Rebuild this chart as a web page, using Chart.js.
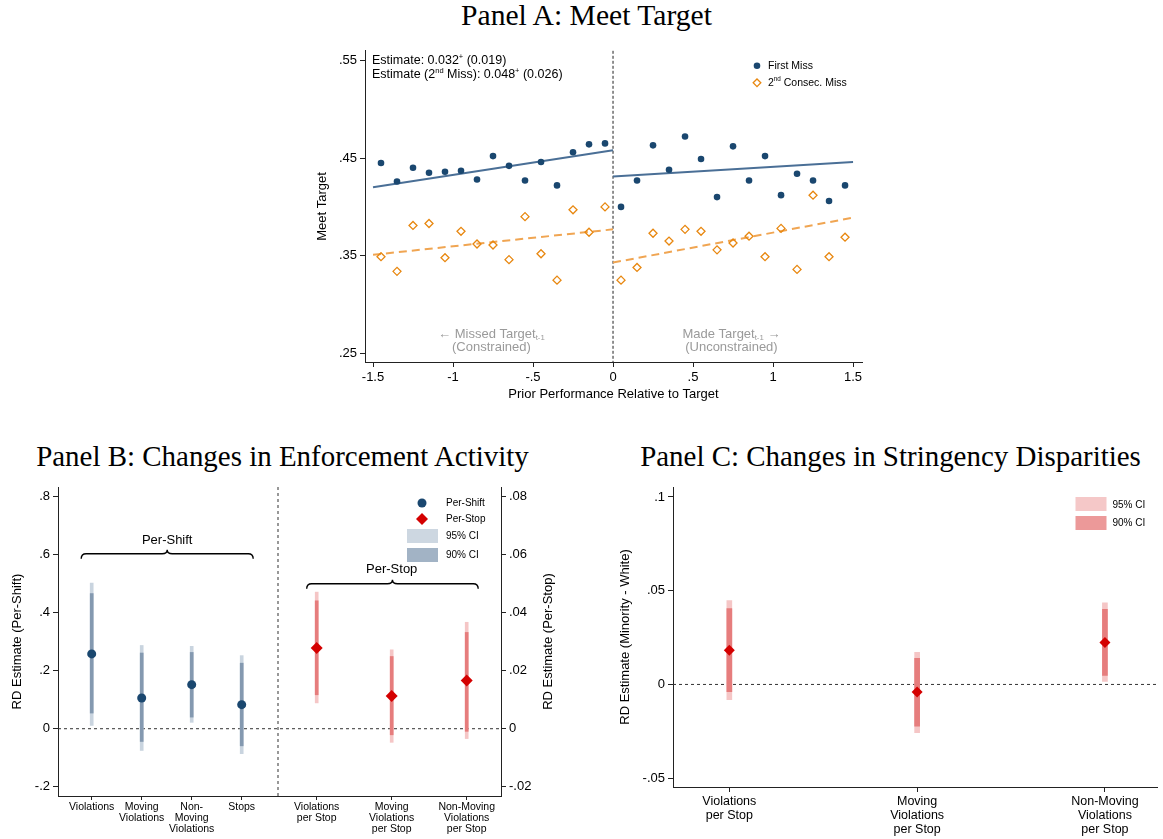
<!DOCTYPE html>
<html>
<head>
<meta charset="utf-8">
<script src="https://cdn.jsdelivr.net/npm/chart.js@4.4.1/dist/chart.umd.min.js"></script>
<style>
  html, body { margin: 0; padding: 0; background: #fff; }
  body { width: 1163px; height: 839px; position: relative; overflow: hidden; }
  .title { position: absolute; font-family: "Liberation Serif", "Times New Roman", serif; color: #000;
           white-space: nowrap; line-height: 1; font-size: 24px; }
  canvas { position: absolute; }
</style>
</head>
<body>
<div class="title" id="titleA">Panel A: Meet Target</div>
<div class="title" id="titleB">Panel B: Changes in Enforcement Activity</div>
<div class="title" id="titleC">Panel C: Changes in Stringency Disparities</div>
<canvas id="chartA" width="580" height="370" style="left:300px;top:40px"></canvas>
<canvas id="chartB" width="580" height="364" style="left:0px;top:475px"></canvas>
<canvas id="chartC" width="573" height="364" style="left:590px;top:475px"></canvas>
<script>
// ---------- Panel A: binned means of meeting the target ----------
const binCenters = [-1.45, -1.35, -1.25, -1.15, -1.05, -0.95, -0.85, -0.75, -0.65, -0.55, -0.45, -0.35, -0.25, -0.15, -0.05,
                     0.05,  0.15,  0.25,  0.35,  0.45,  0.55,  0.65,  0.75,  0.85,  0.95,  1.05,  1.15,  1.25,  1.35,  1.45];
const firstMiss = [0.445, 0.426, 0.440, 0.435, 0.436, 0.437, 0.428, 0.452, 0.442, 0.427, 0.446, 0.422, 0.456, 0.464, 0.465,
                   0.400, 0.427, 0.463, 0.438, 0.472, 0.449, 0.410, 0.462, 0.427, 0.452, 0.412, 0.434, 0.427, 0.406, 0.422];
const secondMiss = [0.349, 0.334, 0.381, 0.383, 0.348, 0.375, 0.362, 0.361, 0.346, 0.390, 0.352, 0.325, 0.397, 0.374, 0.400,
                    0.325, 0.338, 0.373, 0.365, 0.377, 0.375, 0.356, 0.363, 0.370, 0.349, 0.378, 0.336, 0.412, 0.349, 0.369];
// linear fits on each side of the threshold (endpoints)
const fitLeftX = [-1.5, 0];
const fitRightX = [0, 1.5];
const fitFirstLeft = [0.420, 0.458];
const fitFirstRight = [0.431, 0.446];
const fitSecondLeft = [0.351, 0.377];
const fitSecondRight = [0.343, 0.389];
const aXTicks = [-1.5, -1, -0.5, 0, 0.5, 1, 1.5];
const aYTicks = [0.25, 0.35, 0.45, 0.55];

// ---------- Panel B: enforcement activity ----------
const shiftPos = [1, 2, 3, 4];
const shiftLabels = [["Violations"], ["Moving", "Violations"], ["Non-", "Moving", "Violations"], ["Stops"]];
const shiftEst = [0.258, 0.106, 0.152, 0.083];
const shiftLo95 = [0.011, -0.075, 0.022, -0.086];
const shiftHi95 = [0.502, 0.287, 0.284, 0.252];
const shiftLo90 = [0.054, -0.044, 0.040, -0.059];
const shiftHi90 = [0.466, 0.261, 0.263, 0.226];

const stopPos = [5.5, 7, 8.5];
const stopLabels = [["Violations", "per Stop"], ["Moving", "Violations", "per Stop"], ["Non-Moving", "Violations", "per Stop"]];
const stopEst = [0.0278, 0.0113, 0.0166];
const stopLo95 = [0.0089, -0.0047, -0.0034];
const stopHi95 = [0.0471, 0.0272, 0.0367];
const stopLo90 = [0.0117, -0.0021, -0.0009];
const stopHi90 = [0.0441, 0.0249, 0.0332];

const bLeftTicks = [-0.2, 0, 0.2, 0.4, 0.6, 0.8];
const bRightTicks = [-0.02, 0, 0.02, 0.04, 0.06, 0.08];

// ---------- Panel C: stringency disparities ----------
const dispPos = [1, 2, 3];
const dispLabels = [["Violations", "per Stop"], ["Moving", "Violations", "per Stop"], ["Non-Moving", "Violations", "per Stop"]];
const dispEst = [0.0183, -0.0040, 0.0224];
const dispLo95 = [-0.0081, -0.0257, 0.0016];
const dispHi95 = [0.0447, 0.0171, 0.0435];
const dispLo90 = [-0.0039, -0.0222, 0.0048];
const dispHi90 = [0.0404, 0.0139, 0.0400];
const cYTicks = [-0.05, 0, 0.05, 0.1];

// ---------- styling ----------
const FONT = '"Liberation Sans", Arial, Helvetica, "DejaVu Sans", sans-serif';
const NAVY = '#1a476f';
const NAVY_FIT = '#4a6f96';
const ORANGE = '#e8870f';
const ORANGE_FIT = '#f0a552';
const RED = '#d40000';
const BLUE95 = '#c9d4df', BLUE90 = '#8499b0';
const RED95 = '#f5c6c6', RED90 = '#e67d7d';
const LEG_BLUE95 = '#cdd7e1', LEG_BLUE90 = '#a2b3c5';
const LEG_RED95 = '#f5c8c8', LEG_RED90 = '#ec9999';

Chart.defaults.font.family = FONT;
Chart.defaults.color = '#000';
Chart.defaults.animation = false;
Chart.defaults.plugins.legend.display = false;
Chart.defaults.plugins.tooltip.enabled = false;

function fmt(v) {
  if (Math.abs(v) < 1e-12) return '0';
  return String(v).replace(/^(-?)0\./, '$1.');
}

function axis(o) {
  return {
    type: 'linear', min: o.min, max: o.max, position: o.position, offset: false,
    afterBuildTicks: s => { s.ticks = o.ticks.map(v => ({ value: v })); },
    afterFit: s => {
      if (o.width != null) s.width = o.width;
      if (o.height != null) s.height = o.height;
    },
    ticks: {
      autoSkip: false, maxRotation: 0, minRotation: 0, padding: o.pad ?? 3,
      font: { size: o.size ?? 13, lineHeight: o.lh ?? 1.2 }, color: '#000',
      callback: o.labels ? (v, i) => o.labels[i] : (v) => fmt(v)
    },
    grid: { display: true, drawOnChartArea: false, drawTicks: true, tickLength: o.tl ?? 5,
            color: '#222', lineWidth: 1, offset: false },
    border: { display: true, color: '#222', width: 1 }
  };
}

function setFont(ctx, size) { ctx.font = `${size}px ${FONT}`; }

// text with superscript / subscript pieces: parts = [[text, ''|'sup'|'sub'], ...]
function richText(ctx, x, y, parts, size, align, color) {
  const pieces = parts.map(([t, k]) => {
    const s = k ? size * 0.6 : size;
    setFont(ctx, s);
    return { t, k, s, w: ctx.measureText(t).width };
  });
  const total = pieces.reduce((a, p) => a + p.w, 0);
  let cx = align === 'center' ? x - total / 2 : align === 'right' ? x - total : x;
  ctx.save();
  ctx.fillStyle = color || '#000';
  ctx.textBaseline = 'middle';
  ctx.textAlign = 'left';
  pieces.forEach(p => {
    setFont(ctx, p.s);
    const dy = p.k === 'sup' ? -size * 0.3 : p.k === 'sub' ? size * 0.32 : 0;
    ctx.fillText(p.t, cx, y + dy);
    cx += p.w;
  });
  ctx.restore();
}

function vText(ctx, txt, x, y, size) {
  ctx.save();
  ctx.translate(x, y);
  ctx.rotate(-Math.PI / 2);
  setFont(ctx, size);
  ctx.fillStyle = '#000';
  ctx.textAlign = 'center';
  ctx.textBaseline = 'middle';
  ctx.fillText(txt, 0, 0);
  ctx.restore();
}

function dashLine(ctx, x1, y1, x2, y2, dash, color) {
  ctx.save();
  ctx.strokeStyle = color || '#333';
  ctx.lineWidth = 1;
  ctx.setLineDash(dash);
  ctx.beginPath();
  ctx.moveTo(x1, y1);
  ctx.lineTo(x2, y2);
  ctx.stroke();
  ctx.restore();
}

function diamond(ctx, x, y, r, fill, stroke, lw) {
  ctx.beginPath();
  ctx.moveTo(x - r, y); ctx.lineTo(x, y - r); ctx.lineTo(x + r, y); ctx.lineTo(x, y + r); ctx.closePath();
  if (fill) { ctx.fillStyle = fill; ctx.fill(); }
  if (stroke) { ctx.strokeStyle = stroke; ctx.lineWidth = lw || 1; ctx.stroke(); }
}

function dot(ctx, x, y, r, fill) {
  ctx.beginPath();
  ctx.arc(x, y, r, 0, Math.PI * 2);
  ctx.fillStyle = fill;
  ctx.fill();
}

// curly overbrace between x1 and x2 at height y
function overBrace(ctx, x1, x2, y) {
  const xm = (x1 + x2) / 2, r = 5;
  ctx.save();
  ctx.strokeStyle = '#000';
  ctx.lineWidth = 1.4;
  ctx.beginPath();
  ctx.moveTo(x1, y + 5);
  ctx.quadraticCurveTo(x1, y, x1 + r, y);
  ctx.lineTo(xm - r, y);
  ctx.quadraticCurveTo(xm, y, xm, y - 4);
  ctx.quadraticCurveTo(xm, y, xm + r, y);
  ctx.lineTo(x2 - r, y);
  ctx.quadraticCurveTo(x2, y, x2, y + 5);
  ctx.stroke();
  ctx.restore();
}

function ciBars(lo, hi, pos, color, order, thick, yAxisID) {
  return {
    type: 'bar', order, yAxisID,
    data: pos.map((x, i) => ({ x, y: [lo[i], hi[i]] })),
    backgroundColor: color, borderWidth: 0, barThickness: thick, grouped: false
  };
}

// ================= Panel A =================
const decorA = {
  id: 'decorA',
  beforeDatasetsDraw(chart) {
    const { ctx, chartArea: ca, scales: { x } } = chart;
    const x0 = x.getPixelForValue(0);
    dashLine(ctx, x0, ca.top, x0, ca.bottom, [3, 2], '#222');
  },
  afterDraw(chart) {
    const { ctx, chartArea: ca, scales: { x } } = chart;
    // estimate annotation
    richText(ctx, ca.left + 7, ca.top + 10,
      [['Estimate: 0.032', ''], ['+', 'sup'], [' (0.019)', '']], 12.5, 'left');
    richText(ctx, ca.left + 7, ca.top + 24,
      [['Estimate (2', ''], ['nd', 'sup'], [' Miss): 0.048', ''], ['+', 'sup'], [' (0.026)', '']], 12.5, 'left');
    // legend
    const lx = ca.right - 105;
    dot(ctx, lx, ca.top + 15, 3.3, NAVY);
    diamond(ctx, lx, ca.top + 32, 3.8, null, ORANGE, 1.3);
    richText(ctx, lx + 11, ca.top + 15, [['First Miss', '']], 10.5, 'left');
    richText(ctx, lx + 11, ca.top + 32, [['2', ''], ['nd', 'sup'], [' Consec. Miss', '']], 10.5, 'left');
    // side labels
    const gray = '#9a9a9a';
    richText(ctx, x.getPixelForValue(-0.76), ca.bottom - 28,
      [['\u2190 Missed Target', ''], ['t-1', 'sub']], 13, 'center', gray);
    richText(ctx, x.getPixelForValue(-0.76), ca.bottom - 15, [['(Constrained)', '']], 13, 'center', gray);
    richText(ctx, x.getPixelForValue(0.74), ca.bottom - 28,
      [['Made Target', ''], ['t-1', 'sub'], [' \u2192', '']], 13, 'center', gray);
    richText(ctx, x.getPixelForValue(0.74), ca.bottom - 15, [['(Unconstrained)', '']], 13, 'center', gray);
    // axis titles
    vText(ctx, 'Meet Target', 22, (ca.top + ca.bottom) / 2, 13);
    richText(ctx, (ca.left + ca.right) / 2, 354, [['Prior Performance Relative to Target', '']], 13, 'center');
  }
};

new Chart(document.getElementById('chartA'), {
  type: 'scatter',
  data: {
    datasets: [
      { label: 'First Miss', order: 0, data: binCenters.map((x, i) => ({ x, y: firstMiss[i] })),
        pointStyle: 'circle', pointRadius: 3.3, backgroundColor: NAVY, borderWidth: 0 },
      { label: '2nd Consec. Miss', order: 1, data: binCenters.map((x, i) => ({ x, y: secondMiss[i] })),
        pointStyle: 'rectRot', pointRadius: 4, backgroundColor: 'rgba(0,0,0,0)', borderColor: ORANGE, borderWidth: 1.3 },
      { order: 2, showLine: true, pointRadius: 0, borderColor: NAVY_FIT, borderWidth: 2,
        data: fitLeftX.map((x, i) => ({ x, y: fitFirstLeft[i] })) },
      { order: 2, showLine: true, pointRadius: 0, borderColor: NAVY_FIT, borderWidth: 2,
        data: fitRightX.map((x, i) => ({ x, y: fitFirstRight[i] })) },
      { order: 3, showLine: true, pointRadius: 0, borderColor: ORANGE_FIT, borderWidth: 2, borderDash: [8, 5],
        data: fitLeftX.map((x, i) => ({ x, y: fitSecondLeft[i] })) },
      { order: 3, showLine: true, pointRadius: 0, borderColor: ORANGE_FIT, borderWidth: 2, borderDash: [8, 5],
        data: fitRightX.map((x, i) => ({ x, y: fitSecondRight[i] })) }
    ]
  },
  options: {
    responsive: false,
    layout: { padding: { top: 7, right: 18, bottom: 0, left: 0 } },
    scales: {
      x: axis({ min: -1.55, max: 1.556, ticks: aXTicks, height: 48, size: 13, pad: 3 }),
      y: axis({ min: 0.2412, max: 0.5598, ticks: aYTicks, width: 65, size: 13, pad: 3, position: 'left' })
    }
  },
  plugins: [decorA]
});

// ================= Panel B =================
const decorB = {
  id: 'decorB',
  beforeDatasetsDraw(chart) {
    const { ctx, chartArea: ca, scales: { x, y } } = chart;
    const y0 = y.getPixelForValue(0);
    dashLine(ctx, ca.left, y0, ca.right, y0, [3, 3], '#333');
    const xd = x.getPixelForValue(4.726);
    dashLine(ctx, xd, ca.top, xd, ca.bottom, [3, 3], '#333');
  },
  afterDraw(chart) {
    const { ctx, chartArea: ca, scales: { x, y } } = chart;
    // group braces
    overBrace(ctx, x.getPixelForValue(0.79), x.getPixelForValue(4.23), y.getPixelForValue(0.603));
    richText(ctx, x.getPixelForValue(2.51), y.getPixelForValue(0.65), [['Per-Shift', '']], 13, 'center');
    overBrace(ctx, x.getPixelForValue(5.3), x.getPixelForValue(8.73), y.getPixelForValue(0.5));
    richText(ctx, x.getPixelForValue(7.0), y.getPixelForValue(0.548), [['Per-Stop', '']], 13, 'center');
    // legend
    const sx = ca.right - 79, tx = ca.right - 55;
    dot(ctx, sx, ca.top + 16, 4.5, NAVY);
    diamond(ctx, sx, ca.top + 32, 6, RED);
    ctx.fillStyle = LEG_BLUE95; ctx.fillRect(ca.right - 94, ca.top + 42, 31, 14);
    ctx.fillStyle = LEG_BLUE90; ctx.fillRect(ca.right - 94, ca.top + 61, 31, 14);
    richText(ctx, tx, ca.top + 16, [['Per-Shift', '']], 10, 'left');
    richText(ctx, tx, ca.top + 32, [['Per-Stop', '']], 10, 'left');
    richText(ctx, tx, ca.top + 49, [['95% CI', '']], 10, 'left');
    richText(ctx, tx, ca.top + 68, [['90% CI', '']], 10, 'left');
    // axis titles
    vText(ctx, 'RD Estimate (Per-Shift)', 17, (ca.top + ca.bottom) / 2, 13);
    vText(ctx, 'RD Estimate (Per-Stop)', 548, (ca.top + ca.bottom) / 2, 13);
  }
};

new Chart(document.getElementById('chartB'), {
  type: 'scatter',
  data: {
    datasets: [
      { label: 'Per-Shift', order: 0, yAxisID: 'y',
        data: shiftPos.map((x, i) => ({ x, y: shiftEst[i] })),
        pointStyle: 'circle', pointRadius: 4.5, backgroundColor: NAVY, borderWidth: 0 },
      { label: 'Per-Stop', order: 0, yAxisID: 'y2',
        data: stopPos.map((x, i) => ({ x, y: stopEst[i] })),
        pointStyle: 'rectRot', pointRadius: 6, backgroundColor: RED, borderWidth: 0 },
      ciBars(shiftLo90, shiftHi90, shiftPos, BLUE90, 1, 3, 'y'),
      ciBars(shiftLo95, shiftHi95, shiftPos, BLUE95, 2, 3, 'y'),
      ciBars(stopLo90, stopHi90, stopPos, RED90, 1, 3, 'y2'),
      ciBars(stopLo95, stopHi95, stopPos, RED95, 2, 3, 'y2')
    ]
  },
  options: {
    responsive: false,
    layout: { padding: { top: 12, right: 0, bottom: 0, left: 0 } },
    scales: {
      x: axis({ min: 0.326, max: 9.186, ticks: [...shiftPos, ...stopPos], labels: [...shiftLabels, ...stopLabels],
                height: 43, size: 10.5, lh: 1.05, pad: 2, tl: 4 }),
      y: axis({ min: -0.232, max: 0.8334, ticks: bLeftTicks, width: 58, size: 13, pad: 3, position: 'left' }),
      y2: axis({ min: -0.0232, max: 0.08334, ticks: bRightTicks, width: 79, size: 13, pad: 3, position: 'right' })
    }
  },
  plugins: [decorB]
});

// ================= Panel C =================
const decorC = {
  id: 'decorC',
  beforeDatasetsDraw(chart) {
    const { ctx, chartArea: ca, scales: { y } } = chart;
    const y0 = y.getPixelForValue(0);
    dashLine(ctx, ca.left, y0, ca.right, y0, [3, 3], '#333');
  },
  afterDraw(chart) {
    const { ctx, chartArea: ca } = chart;
    ctx.fillStyle = LEG_RED95; ctx.fillRect(ca.right - 82, ca.top + 10, 31, 14);
    ctx.fillStyle = LEG_RED90; ctx.fillRect(ca.right - 82, ca.top + 29, 31, 14);
    richText(ctx, ca.right - 45, ca.top + 18, [['95% CI', '']], 10, 'left');
    richText(ctx, ca.right - 45, ca.top + 36, [['90% CI', '']], 10, 'left');
    vText(ctx, 'RD Estimate (Minority - White)', 35, (ca.top + ca.bottom) / 2, 13);
  }
};

new Chart(document.getElementById('chartC'), {
  type: 'scatter',
  data: {
    datasets: [
      { label: 'Estimate', order: 0, data: dispPos.map((x, i) => ({ x, y: dispEst[i] })),
        pointStyle: 'rectRot', pointRadius: 5.5, backgroundColor: RED, borderWidth: 0 },
      ciBars(dispLo90, dispHi90, dispPos, RED90, 1, 5, 'y'),
      ciBars(dispLo95, dispHi95, dispPos, RED95, 2, 5, 'y')
    ]
  },
  options: {
    responsive: false,
    layout: { padding: { top: 12, right: 1, bottom: 0, left: 0 } },
    scales: {
      x: axis({ min: 0.7, max: 3.28, ticks: dispPos, labels: dispLabels, height: 52, size: 12.5, lh: 1.12, pad: 3, tl: 5 }),
      y: axis({ min: -0.0547, max: 0.1053, ticks: cYTicks, width: 83, size: 13, pad: 3, position: 'left' })
    }
  },
  plugins: [decorC]
});

// ---------- panel titles ----------
function placeTitle(id, cx, cy, targetW) {
  const el = document.getElementById(id);
  const w0 = el.getBoundingClientRect().width;
  const fs = 24 * targetW / w0;
  el.style.fontSize = fs + 'px';
  const r = el.getBoundingClientRect();
  el.style.left = (cx - r.width / 2) + 'px';
  el.style.top = (cy - r.height / 2 - 1) + 'px';
}
placeTitle('titleA', 586.5, 17, 251);
placeTitle('titleB', 282.5, 457, 493);
placeTitle('titleC', 890.5, 457, 501);
</script>
</body>
</html>
